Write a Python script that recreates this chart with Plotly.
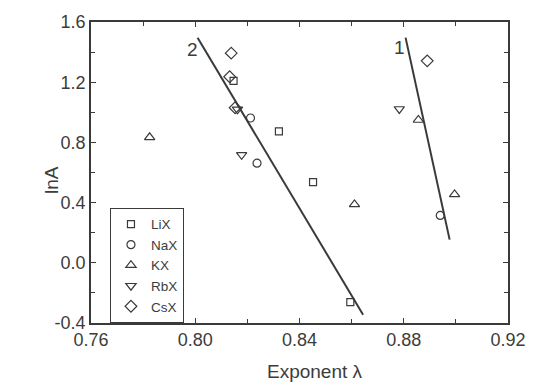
import plotly.graph_objects as go

# Data: exponent lambda vs lnA
lix_x = [0.8321, 0.8452, 0.8595, 0.8147]
lix_y = [0.873, 0.536, -0.261, 1.209]
nax_x = [0.8212, 0.8237, 0.8940]
nax_y = [0.962, 0.662, 0.315]
kx_x = [0.7825, 0.8856, 0.8995, 0.8611]
kx_y = [0.834, 0.949, 0.454, 0.388]
rbx_x = [0.8178, 0.8783, 0.8162]
rbx_y = [0.717, 1.022, 1.020]
csx_x = [0.8138, 0.8132, 0.8153, 0.8890]
csx_y = [1.393, 1.236, 1.030, 1.342]

# Fitted lines (end points)
line1_x = [0.8807, 0.8976]
line1_y = [1.496, 0.154]
line2_x = [0.8009, 0.8644]
line2_y = [1.496, -0.345]

ink = "#3a3a3a"
txt = "#3c3c3c"
fnt = "Liberation Sans, Arial, sans-serif"

fig = go.Figure()
fig.add_trace(go.Scatter(x=line1_x, y=line1_y, mode="lines",
                         line=dict(color=ink, width=2), showlegend=False))
fig.add_trace(go.Scatter(x=line2_x, y=line2_y, mode="lines",
                         line=dict(color=ink, width=2), showlegend=False))

series = [
    ("LiX", lix_x, lix_y, "square-open", 7),
    ("NaX", nax_x, nax_y, "circle-open", 8),
    ("KX", kx_x, kx_y, "triangle-up-open", 9),
    ("RbX", rbx_x, rbx_y, "triangle-down-open", 9),
    ("CsX", csx_x, csx_y, "diamond-open", 9),
]
for name, xs, ys, sym, sz in series:
    fig.add_trace(go.Scatter(x=xs, y=ys, mode="markers", name=name,
                             marker=dict(symbol=sym, size=sz, color=ink,
                                         line=dict(width=1.2, color=ink))))

axis_common = dict(showline=True, linecolor=ink, linewidth=1.5, mirror="ticks",
                   ticks="inside", ticklen=5, tickwidth=1.2, tickcolor=ink,
                   showgrid=False, zeroline=False,
                   tickfont=dict(family=fnt, size=18, color=txt))

fig.update_xaxes(range=[0.76, 0.92], tickvals=[0.76, 0.80, 0.84, 0.88, 0.92],
                 ticktext=["0.76", "0.80", "0.84", "0.88", "0.92"],
                 minor=dict(tickvals=[0.78, 0.82, 0.86, 0.90], ticks="inside",
                            ticklen=4, tickcolor=ink, tickwidth=1.2),
                 **axis_common)
fig.update_yaxes(range=[-0.4, 1.6], tickvals=[-0.4, 0.0, 0.4, 0.8, 1.2, 1.6],
                 ticktext=["-0.4", "0.0", "0.4", "0.8", "1.2", "1.6"],
                 minor=dict(tickvals=[-0.2, 0.2, 0.6, 1.0, 1.4], ticks="inside",
                            ticklen=4, tickcolor=ink, tickwidth=1.2),
                 **axis_common)

fig.add_annotation(x=0.7988, y=1.42, text="2", showarrow=False,
                   font=dict(family=fnt, size=19, color=txt))
fig.add_annotation(x=0.8782, y=1.43, text="1", showarrow=False,
                   font=dict(family=fnt, size=19, color=txt))
fig.add_annotation(xref="paper", yref="paper", x=0.538, y=-0.162,
                   text="Exponent λ", showarrow=False, xanchor="center",
                   yanchor="middle",
                   font=dict(family=fnt, size=19, color=txt))
fig.add_annotation(xref="paper", yref="paper", x=-0.096, y=0.475,
                   text="lnA", showarrow=False, textangle=-90,
                   xanchor="center", yanchor="middle",
                   font=dict(family=fnt, size=19, color=txt))

fig.update_layout(
    width=538, height=385,
    margin=dict(l=91, r=21, t=21, b=62),
    paper_bgcolor="white", plot_bgcolor="white",
    legend=dict(x=0.045, y=-0.002, xanchor="left", yanchor="bottom",
                bordercolor=ink, borderwidth=1.2, bgcolor="white",
                font=dict(family=fnt, size=13.5, color=txt),
                itemwidth=30, tracegroupgap=0),
)

# remove the default page margin so the figure sits at the window's corner
fig.write_html("out.html", config={"displayModeBar": False},
               post_script="document.body.style.margin='0';"
                           "document.body.style.overflow='hidden';")
